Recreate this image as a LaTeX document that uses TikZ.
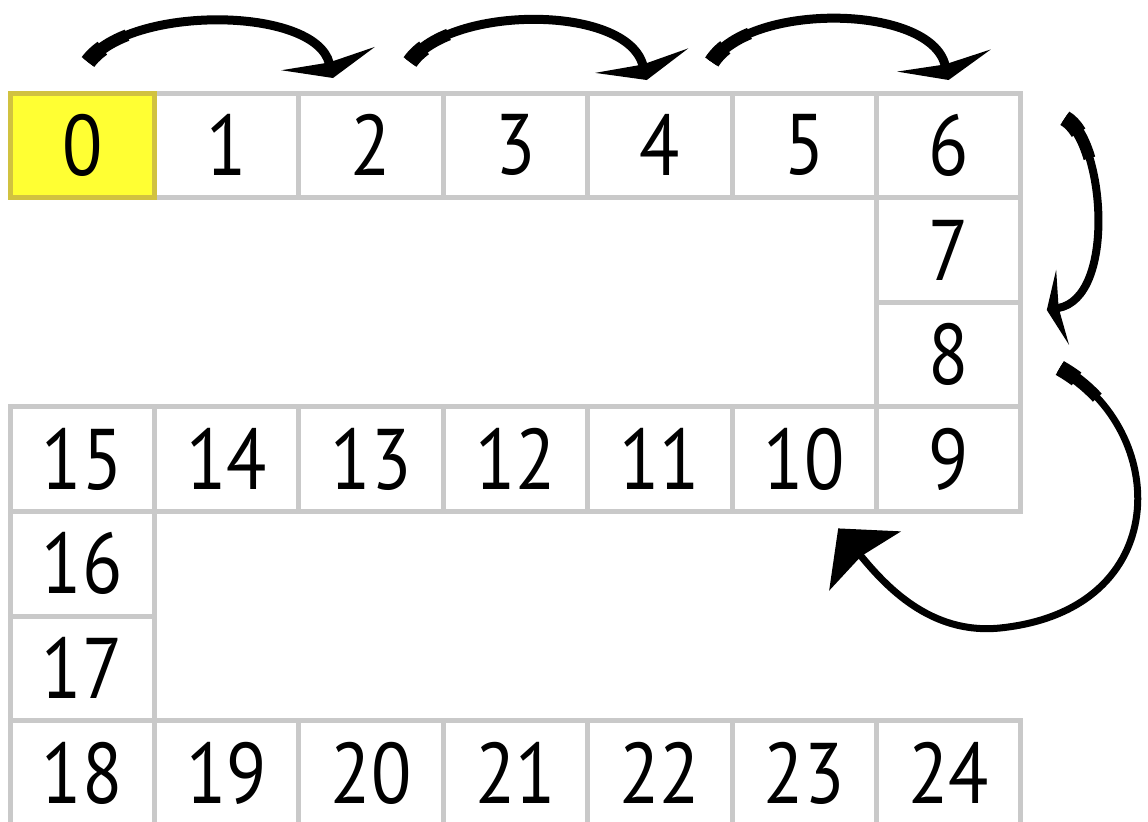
\documentclass[tikz,border=0pt]{standalone}
\usepackage{fontspec}
\setmainfont{PT Sans}[FakeStretch=0.86]
\usetikzlibrary{arrows.meta}

\begin{document}
\begin{tikzpicture}[x=0.5pt,y=-0.5pt,
  cell/.style={draw=gridColor,line width=2.5pt,minimum width=72.2pt,
    minimum height=52.3pt,inner sep=0pt,outer sep=0pt,
    font=\fontsize{43}{50}\selectfont},
  hop/.style={draw=black,line width=4.5pt,
    -{Stealth[length=10pt,width=48pt,inset=2pt]},
    postaction={draw,-,line width=6pt,dash pattern=on 24pt off 2000pt},
    postaction={draw,-,line width=8pt,dash pattern=on 10pt off 2000pt}}]
\definecolor[named]{gridColor}{rgb}{0.79,0.79,0.79}
\definecolor[named]{startFill}{rgb}{1.00,1.00,0.20}
\definecolor[named]{startEdge}{rgb}{0.82,0.76,0.25}
\path[use as bounding box,fill=white] (0,0) rectangle (1148,821);
\begin{scope}
\path[clip] (0,0) rectangle (1148,821);

% snake of cells
\foreach \n in {1,...,6}
  \node[cell] (c\n) at ({82.2+144.4*\n},145.3) {\n};
\foreach \n/\j in {7/1,8/2}
  \node[cell] (c\n) at (948.6,{145.3+104.6*\j}) {\n};
\foreach \n in {9,...,15}
  \node[cell] (c\n) at ({82.2+144.4*(15-\n)},459.1) {\n};
\foreach \n/\j in {16/4,17/5}
  \node[cell] (c\n) at (82.2,{145.3+104.6*\j}) {\n};
\foreach \n in {18,...,24}
  \node[cell] (c\n) at ({82.2+144.4*(\n-18)},772.9) {\n};
\node[cell,fill=startFill,draw=startEdge] (c0) at (82.2,145.3) {0};

% jumps along the top
\draw[hop] ([shift={(5.8,-31)}]c0.north) .. controls +(42,-57) and +(-18,-72) ..
  ([shift={(-38,-15)}]c2.north);
\draw[hop] ([shift={(39,-31)}]c2.north) .. controls +(40,-57) and +(-20,-76) ..
  ([shift={(-13,-13)}]c4.north);
\draw[hop] ([shift={(52,-31)}]c4.north) .. controls +(38,-60) and +(-18,-76) ..
  ([shift={(0,-13)}]c6.north);

% down the right side
\draw[hop,line width=4pt,-{Stealth[length=8pt,width=38pt,inset=2pt]}]
  ([shift={(44,-27)}]c6.east) .. controls +(40,22) and +(70,-12) ..
  ([shift={(26,-44.5)}]c8.east);
\draw[hop,line width=3.5pt,-{Stealth[length=21pt,width=46pt,inset=3pt]}]
  ([shift={(39,13.5)}]c8.east) .. controls +(110,62) and +(175,-18) .. (1000,628)
  .. controls +(-70,7) and +(47,57) .. ([shift={(34,17)}]c10.south);
\end{scope}
\end{tikzpicture}
\end{document}
